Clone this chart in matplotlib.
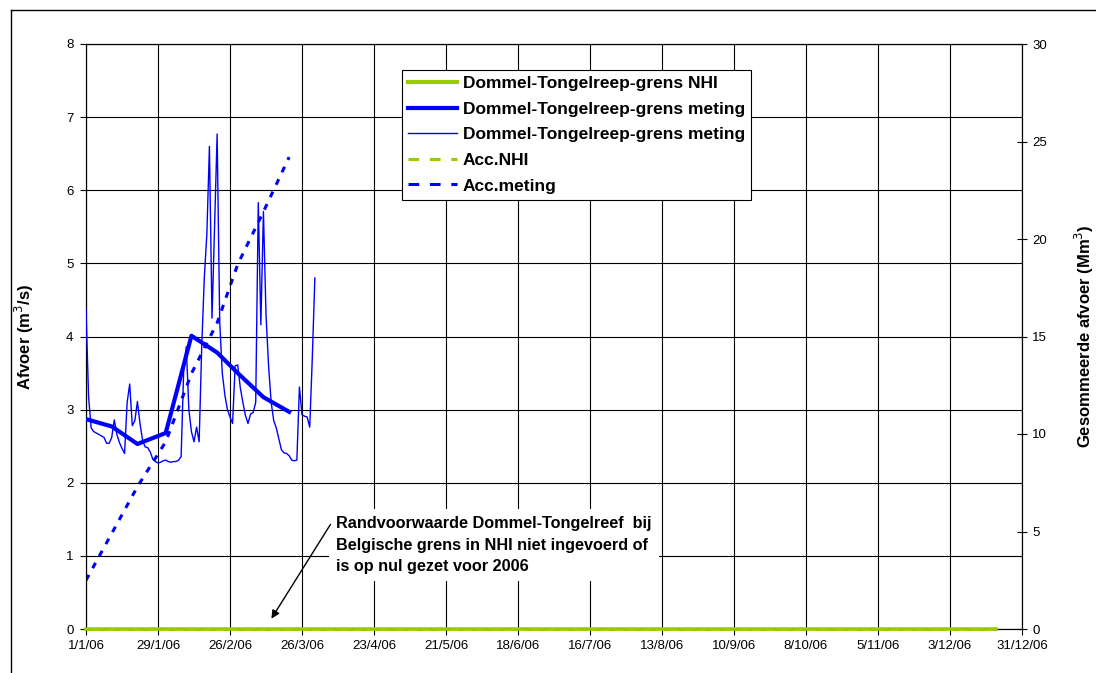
import matplotlib
matplotlib.use('Agg')
import matplotlib.pyplot as plt
import matplotlib.dates as mdates
from matplotlib.lines import Line2D
import pandas as pd

plt.rcParams['font.family'] = ['Liberation Sans', 'DejaVu Sans']

# daily measured discharge, 1/1/06 .. 31/3/06 (m3/s)
daily_meting = [
    4.37, 3.18, 2.75, 2.70, 2.68, 2.66, 2.64, 2.62, 2.54, 2.54,
    2.62, 2.86, 2.66, 2.55, 2.47, 2.40, 3.10, 3.35, 2.78, 2.85,
    3.11, 2.81, 2.58, 2.49, 2.48, 2.42, 2.32, 2.29, 2.27, 2.28,
    2.30, 2.31, 2.29, 2.28, 2.29, 2.29, 2.31, 2.36, 3.55, 3.86,
    3.00, 2.70, 2.56, 2.76, 2.56, 3.86, 4.80, 5.40, 6.60, 4.25,
    5.50, 6.77, 4.20, 3.50, 3.20, 3.00, 2.90, 2.81, 3.60, 3.61,
    3.30, 3.10, 2.92, 2.81, 2.94, 2.96, 3.10, 5.83, 4.16, 5.71,
    4.30, 3.60, 3.10, 2.85, 2.75, 2.60, 2.45, 2.41, 2.40, 2.37,
    2.31, 2.30, 2.31, 3.31, 2.93, 2.91, 2.90, 2.76, 3.70, 4.80,
]

# dekad values (plotted at the start of each dekad)
dekad_meting_dates = ['2006-01-01', '2006-01-11', '2006-01-21', '2006-02-01', '2006-02-11',
                      '2006-02-21', '2006-03-01', '2006-03-11', '2006-03-21']
dekad_meting = [2.87, 2.77, 2.53, 2.68, 4.01, 3.78, 3.50, 3.17, 2.97]
acc_meting = [2.5, 4.9, 7.3, 9.6, 13.1, 15.7, 18.7, 21.4, 24.2]   # Mm3

# NHI: all dekads of 2006, zero everywhere
nhi_dates = [f'2006-{m:02d}-{d:02d}' for m in range(1, 13) for d in (1, 11, 21)]
nhi_afvoer = [0.0] * 36
acc_nhi = [0.0] * 36

green = '#99CC00'
blue = '#0000FF'

daily_dates = pd.date_range('2006-01-01', periods=len(daily_meting))
dek_dates = pd.to_datetime(dekad_meting_dates)
nhi_d = pd.to_datetime(nhi_dates)

fig = plt.figure(figsize=(10.96, 6.73), dpi=100)
ax = fig.add_axes([86 / 1096, 1 - 629 / 673, 936 / 1096, 585 / 673])
ax2 = ax.twinx()

ax.plot(nhi_d, nhi_afvoer, color=green, lw=2.6, zorder=5, clip_on=False)
ax.plot(dek_dates, dekad_meting, color=blue, lw=3.0, zorder=4)
ax.plot(daily_dates, daily_meting, color=blue, lw=1.0, zorder=3)
ax2.plot(nhi_d, acc_nhi, color=green, lw=2.2, ls=(0, (2, 2.5)), clip_on=False)
ax2.plot(dek_dates, acc_meting, color=blue, lw=2.2, ls=(0, (2, 2.5)))

start = pd.Timestamp('2006-01-01')
ticks = pd.date_range(start, periods=14, freq='28D')
ax.set_xlim(start, pd.Timestamp('2006-12-31'))
ax.set_xticks(ticks)
ax.xaxis.set_major_formatter(plt.FuncFormatter(
    lambda v, p: (lambda d: f'{d.day}/{d.month}/{d.strftime("%y")}')(mdates.num2date(v))))
ax.set_ylim(0, 8)
ax.set_yticks(range(0, 9))
ax2.set_ylim(0, 30)
ax2.set_yticks(range(0, 31, 5))

ax.grid(True, color='black', lw=0.8)
ax.tick_params(axis='both', labelsize=9.5, direction='out', length=4, width=0.8)
ax.tick_params(axis='x', pad=4)
ax.tick_params(axis='y', pad=5)
ax2.tick_params(axis='y', labelsize=9.5, direction='inout', length=7, width=0.8, pad=4)
for sp in list(ax.spines.values()) + list(ax2.spines.values()):
    sp.set_linewidth(0.8)

ax.set_ylabel('Afvoer (m$^3$/s)', fontsize=12, fontweight='bold')
ax.yaxis.set_label_coords(-0.053, 0.5)
ax2.set_ylabel('Gesommeerde afvoer (Mm$^3$)', fontsize=12, fontweight='bold')
ax2.yaxis.set_label_coords(1.0545, 0.5)

ax.set_zorder(ax2.get_zorder() + 1)
ax.patch.set_visible(False)

handles = [
    Line2D([], [], color=green, lw=3.0),
    Line2D([], [], color=blue, lw=3.0),
    Line2D([], [], color=blue, lw=1.0),
    Line2D([], [], color=green, lw=2.2, ls=(0, (3.5, 3.5))),
    Line2D([], [], color=blue, lw=2.2, ls=(0, (3.5, 3.5))),
]
labels = ['Dommel-Tongelreep-grens NHI', 'Dommel-Tongelreep-grens meting',
          'Dommel-Tongelreep-grens meting', 'Acc.NHI', 'Acc.meting']
leg = fig.legend(handles, labels, loc='upper left', bbox_to_anchor=(402 / 1096, 1 - 70 / 673),
                 prop={'weight': 'bold', 'size': 12.5}, frameon=True, fancybox=False,
                 edgecolor='black', framealpha=1, borderaxespad=0, borderpad=0.35,
                 labelspacing=0.6, handlelength=2.8, handletextpad=0.35)
leg.get_frame().set_linewidth(0.8)

ax.text(0.2675, 0.193, 'Randvoorwaarde Dommel-Tongelreef  bij\nBelgische grens in NHI niet ingevoerd of\n'
        'is op nul gezet voor 2006', transform=ax.transAxes, ha='left', va='top',
        fontsize=11.7, fontweight='bold', linespacing=1.55, zorder=6,
        bbox=dict(facecolor='white', edgecolor='none', pad=5))
ax.annotate('', xy=(0.1965, 0.0137), xytext=(0.2628, 0.1829), xycoords='axes fraction',
            arrowprops=dict(arrowstyle='-|>', color='black', lw=1.0, mutation_scale=12), zorder=7)

# chart area border (left and top edges visible)
fig.add_artist(Line2D([11 / 1096, 11 / 1096], [0, 1 - 10 / 673], color='black', lw=1.0))
fig.add_artist(Line2D([11 / 1096, 1], [1 - 10 / 673, 1 - 10 / 673], color='black', lw=1.0))

fig.savefig('out.png', dpi=100)
